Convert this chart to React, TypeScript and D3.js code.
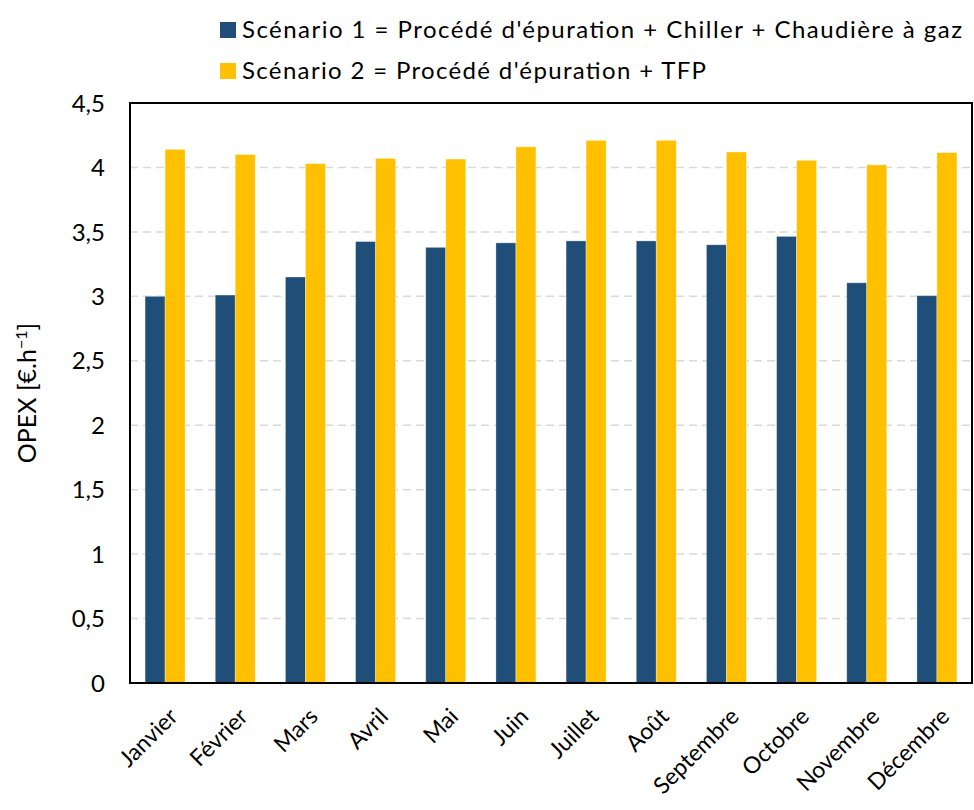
import * as d3 from "d3";
import React from "react";

const WIDTH = 974;
const HEIGHT = 810;
const MARGIN = { top: 103, right: 2, bottom: 127, left: 130 };

const months = [
    "Janvier",
    "Février",
    "Mars",
    "Avril",
    "Mai",
    "Juin",
    "Juillet",
    "Août",
    "Septembre",
    "Octobre",
    "Novembre",
    "Décembre",
];
const scenario1 = [3.0, 3.01, 3.15, 3.425, 3.38, 3.415, 3.43, 3.43, 3.4, 3.465, 3.105, 3.005];
const scenario2 = [4.14, 4.1, 4.03, 4.07, 4.065, 4.16, 4.21, 4.21, 4.12, 4.055, 4.02, 4.115];
const seriesNames = [
    "Scénario 1 = Procédé d'épuration + Chiller + Chaudière à gaz",
    "Scénario 2 = Procédé d'épuration + TFP",
];
// widths the legend texts take in the reference
const legendWidths = [720, 464];
const yTicks = [0, 0.5, 1, 1.5, 2, 2.5, 3, 3.5, 4, 4.5];

const COLORS = ["#1f4e79", "#ffc000"];
const FONT = "Lato, 'Open Sans', sans-serif";

const App: React.FC = () => {
    const boundsWidth = WIDTH - MARGIN.left - MARGIN.right;
    const boundsHeight = HEIGHT - MARGIN.top - MARGIN.bottom;

    const xScale = d3
        .scaleBand<string>()
        .domain(months)
        .range([0, boundsWidth])
        .paddingInner(0.43)
        .paddingOuter(0.215);
    const innerScale = d3
        .scaleBand<number>()
        .domain([0, 1])
        .range([0, xScale.bandwidth()]);
    const yScale = d3.scaleLinear().domain([0, 4.5]).range([boundsHeight, 0]);

    const allSeries = [scenario1, scenario2];
    const fmt = (v: number) => String(v).replace(".", ",");

    return (
        <svg
            width={WIDTH}
            height={HEIGHT}
            style={{ position: "absolute", left: 0, top: 0, background: "#fff" }}
            fontFamily={FONT}
        >
            {/* legend */}
            {seriesNames.map((name, i) => (
                <g key={name} transform={`translate(220,${22 + i * 41})`}>
                    <rect width={16} height={16} fill={COLORS[i]} />
                    <text
                        x={22}
                        y={16}
                        fontSize={24}
                        fill="#000"
                        textLength={legendWidths[i]}
                        lengthAdjust="spacing"
                    >
                        {name}
                    </text>
                </g>
            ))}

            <g transform={`translate(${MARGIN.left},${MARGIN.top})`}>
                {/* grid */}
                {yTicks.slice(1, -1).map((t) => (
                    <line
                        key={t}
                        x1={0}
                        x2={boundsWidth}
                        y1={yScale(t)}
                        y2={yScale(t)}
                        stroke="#d9d9d9"
                        strokeWidth={1.5}
                        strokeDasharray="8,5"
                    />
                ))}

                {/* bars */}
                {months.map((m, i) => (
                    <g key={m} transform={`translate(${xScale(m)},0)`}>
                        {allSeries.map((s, j) => (
                            <rect
                                key={j}
                                x={innerScale(j)}
                                y={yScale(s[i])}
                                width={innerScale.bandwidth()}
                                height={boundsHeight - yScale(s[i])}
                                fill={COLORS[j]}
                                stroke="#ffffff"
                                strokeOpacity={0.4}
                                strokeWidth={0.8}
                            />
                        ))}
                    </g>
                ))}

                {/* frame */}
                <rect
                    x={0}
                    y={0}
                    width={boundsWidth}
                    height={boundsHeight}
                    fill="none"
                    stroke="#000"
                    strokeWidth={2}
                />

                {/* y tick labels */}
                {yTicks.map((t) => (
                    <text
                        key={t}
                        x={-25}
                        y={yScale(t)}
                        dy="0.36em"
                        textAnchor="end"
                        fontSize={24}
                        fill="#000"
                    >
                        {fmt(t)}
                    </text>
                ))}

                {/* x tick labels */}
                {months.map((m) => {
                    const cx = (xScale(m) || 0) + xScale.bandwidth() / 2 + 14;
                    return (
                        <text
                            key={m}
                            transform={`translate(${cx},${boundsHeight + 35}) rotate(-45)`}
                            textAnchor="end"
                            fontSize={23}
                            fill="#000"
                        >
                            {m}
                        </text>
                    );
                })}
            </g>

            {/* y axis title */}
            <text
                transform={`translate(36,${MARGIN.top + boundsHeight / 2}) rotate(-90)`}
                textAnchor="middle"
                fontSize={25}
                fill="#000"
            >
                OPEX [€.h
                <tspan dy={-9} fontSize={16}>
                    −1
                </tspan>
                <tspan dy={9}>]</tspan>
            </text>
        </svg>
    );
};

export default App;
